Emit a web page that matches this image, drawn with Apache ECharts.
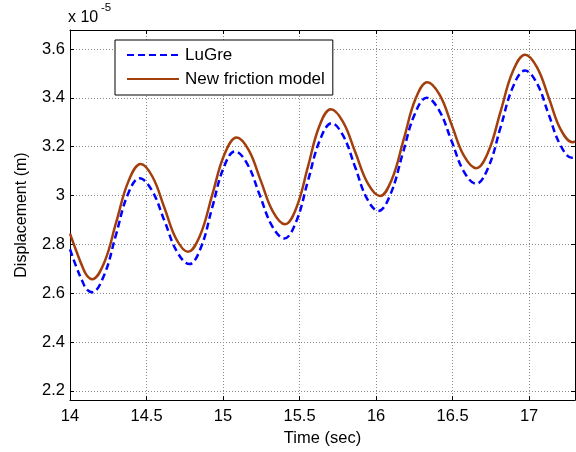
<!DOCTYPE html>
<html>
<head>
<meta charset="utf-8">
<script src="https://cdn.jsdelivr.net/npm/echarts@6/dist/echarts.min.js"></script>
<style>html,body{margin:0;padding:0;background:#fff}#c{width:576px;height:452px}</style>
</head>
<body>
<div id="c"></div>
<script>
// Time (sec) and displacement (x 1e-5 m)
const newModelTime = [14.00,14.04,14.08,14.11,14.144,14.224,14.303,14.383,14.462,14.539,14.617,14.694,14.771,14.851,14.930,15.010,15.089,15.168,15.247,15.326,15.405,15.480,15.555,15.629,15.704,15.785,15.865,15.946,16.026,16.103,16.181,16.258,16.335,16.415,16.495,16.574,16.654,16.734,16.814,16.894,16.974,17.052,17.130,17.207,17.285,17.30];
const newModelDisp = [2.844,2.775,2.710,2.672,2.657,2.726,2.893,3.060,3.129,3.077,2.950,2.822,2.770,2.838,3.004,3.170,3.238,3.186,3.060,2.934,2.882,2.951,3.118,3.284,3.353,3.301,3.176,3.050,2.998,3.066,3.231,3.396,3.464,3.413,3.288,3.163,3.112,3.180,3.345,3.509,3.577,3.525,3.398,3.270,3.218,3.222];
const luGreTime = [14.00,14.04,14.08,14.11,14.144,14.222,14.300,14.377,14.455,14.536,14.618,14.699,14.780,14.855,14.929,15.004,15.078,15.159,15.239,15.320,15.400,15.478,15.555,15.633,15.710,15.786,15.863,15.939,16.015,16.094,16.173,16.252,16.331,16.412,16.493,16.573,16.654,16.734,16.814,16.894,16.974,17.051,17.127,17.204,17.280,17.30];
const luGreDisp = [2.780,2.710,2.650,2.615,2.604,2.672,2.838,3.003,3.071,3.020,2.895,2.770,2.719,2.786,2.950,3.114,3.181,3.129,3.003,2.876,2.824,2.893,3.060,3.227,3.296,3.244,3.117,2.989,2.937,3.005,3.169,3.332,3.400,3.349,3.224,3.099,3.048,3.116,3.280,3.444,3.512,3.460,3.334,3.207,3.155,3.158];
const xTicks = [14, 14.5, 15, 15.5, 16, 16.5, 17];
const yTicks = [2.2, 2.4, 2.6, 2.8, 3, 3.2, 3.4, 3.6];
const seriesNames = ['LuGre', 'New friction model'];

const FONT = 'Liberation Sans, Arial, sans-serif';
const zip = (a, b) => a.map((v, i) => [v, b[i]]);
const chart = echarts.init(document.getElementById('c'), null, {renderer: 'canvas'});
const gridLine = {show: true, lineStyle: {color: '#8a8a8a', type: [1, 2], width: 1}};
const axisLine = {show: true, onZero: false, lineStyle: {color: '#000', width: 1}};
const tickIn = (vals) => ({show: true, inside: true, length: 4, customValues: vals, lineStyle: {color: '#000'}});

chart.setOption({
  animation: false,
  backgroundColor: '#fff',
  grid: {left: 70, right: 1, top: 30, bottom: 49, containLabel: false},
  xAxis: [{
    type: 'value', min: 14, max: 17.3, position: 'bottom',
    axisLine: axisLine, axisTick: tickIn(xTicks), splitLine: gridLine,
    axisLabel: {customValues: xTicks, color: '#000', fontSize: 16.5, fontFamily: FONT, margin: 8},
    name: 'Time (sec)', nameLocation: 'middle', nameGap: 29,
    nameTextStyle: {color: '#000', fontSize: 16.5, fontFamily: FONT}
  }, {
    type: 'value', min: 14, max: 17.3, position: 'top',
    axisLine: axisLine, axisTick: tickIn(xTicks), splitLine: {show: false},
    axisLabel: {show: false}
  }],
  yAxis: [{
    type: 'value', min: 2.162, max: 3.678, position: 'left',
    axisLine: axisLine, axisTick: tickIn(yTicks), splitLine: gridLine,
    axisLabel: {customValues: yTicks, color: '#000', fontSize: 16.5, fontFamily: FONT, margin: 5},
    name: 'Displacement (m)', nameLocation: 'middle', nameGap: 40,
    nameTextStyle: {color: '#000', fontSize: 16, fontFamily: FONT}
  }, {
    type: 'value', min: 2.162, max: 3.678, position: 'right',
    axisLine: axisLine, axisTick: tickIn(yTicks), splitLine: {show: false},
    axisLabel: {show: false}
  }],
  legend: {
    data: seriesNames,
    orient: 'vertical', left: 115, top: 40,
    backgroundColor: '#fff', borderColor: '#000', borderWidth: 1, borderRadius: 0,
    padding: [6, 8, 7, 11], itemGap: 6, itemWidth: 52, itemHeight: 14,
    itemStyle: {opacity: 0},
    textStyle: {color: '#000', fontSize: 17, fontFamily: FONT, lineHeight: 18, padding: [0, 0, 0, 1]},
    z: 10
  },
  graphic: [
    {type: 'text', left: 68, top: 10, style: {text: 'x 10', fontSize: 16, fontFamily: FONT, fill: '#000'}},
    {type: 'text', left: 101, top: 1.5, style: {text: '-5', fontSize: 11.5, fontFamily: FONT, fill: '#000'}}
  ],
  series: [{
    name: seriesNames[1], type: 'line', xAxisIndex: 0, yAxisIndex: 0,
    data: zip(newModelTime, newModelDisp), smooth: 0.4, symbol: 'none', showSymbol: false,
    lineStyle: {color: '#A33F0C', width: 2.5}, itemStyle: {color: '#A33F0C'}, z: 2
  }, {
    name: seriesNames[0], type: 'line', xAxisIndex: 0, yAxisIndex: 0,
    data: zip(luGreTime, luGreDisp), smooth: 0.4, symbol: 'none', showSymbol: false,
    lineStyle: {color: '#0000FF', width: 2.5, type: [7, 4]}, itemStyle: {color: '#0000FF'}, z: 3
  }]
});
</script>
</body>
</html>
